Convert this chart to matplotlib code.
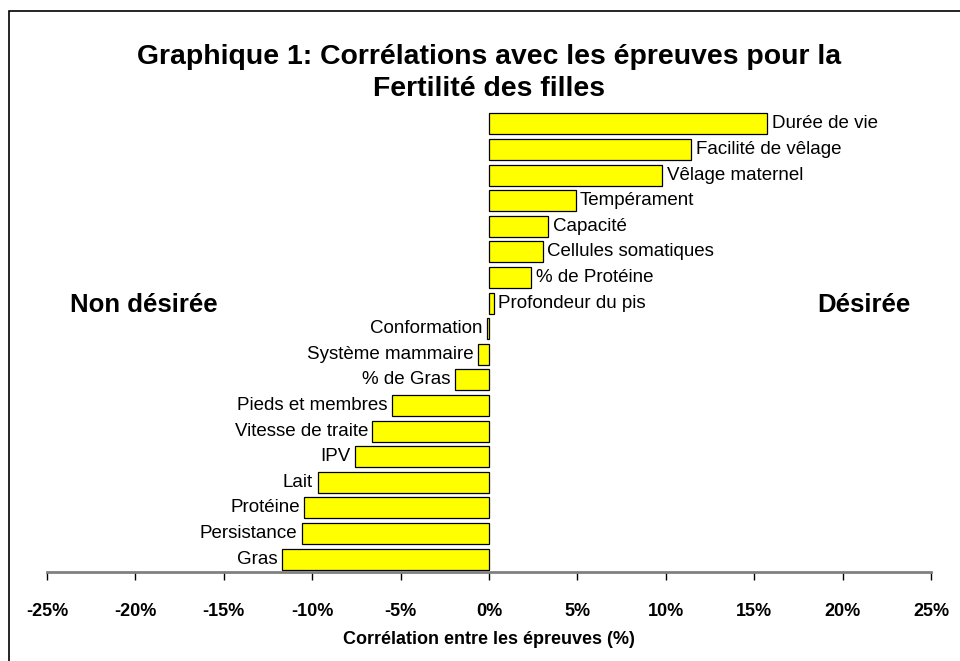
import matplotlib
matplotlib.use("Agg")
import matplotlib.pyplot as plt
from matplotlib.patches import Rectangle
from matplotlib.ticker import FuncFormatter

plt.rcParams['font.family'] = ['Liberation Sans', 'DejaVu Sans']

categories = ["Durée de vie", "Facilité de vêlage", "Vêlage maternel", "Tempérament",
              "Capacité", "Cellules somatiques", "% de Protéine", "Profondeur du pis",
              "Conformation", "Système mammaire", "% de Gras", "Pieds et membres",
              "Vitesse de traite", "IPV", "Lait", "Protéine", "Persistance", "Gras"]
values = [15.75, 11.45, 9.8, 4.9, 3.35, 3.05, 2.4, 0.27,
          -0.13, -0.6, -1.9, -5.5, -6.6, -7.6, -9.7, -10.45, -10.6, -11.7]
xticks = [-25, -20, -15, -10, -5, 0, 5, 10, 15, 20, 25]

W, H = 960, 661
fig = plt.figure(figsize=(W / 100, H / 100), dpi=100)
ax = fig.add_axes([47 / W, 1 - 572 / H, (931 - 47) / W, (572 - 111) / H])

n = len(categories)
ypos = [n - 1 - i for i in range(n)]
ax.barh(ypos, values, height=0.82, color='#FFFF00', edgecolor='black', linewidth=0.9, zorder=2)

for y, v, c in zip(ypos, values, categories):
    if v >= 0:
        ax.text(v + 0.25, y, c, ha='left', va='center', fontsize=13.5)
    else:
        ax.text(v - 0.25, y, c, ha='right', va='center', fontsize=13.5)

ax.set_xlim(-25, 25)
ax.set_ylim(-0.5, n - 0.5)
ax.set_yticks([])
for s in ['left', 'right', 'top']:
    ax.spines[s].set_visible(False)
ax.spines['bottom'].set_color('#808080')
ax.spines['bottom'].set_linewidth(2)
ax.set_xticks(xticks)
ax.xaxis.set_major_formatter(FuncFormatter(lambda x, p: f"{int(round(x))}%"))
ax.tick_params(axis='x', direction='out', length=6, width=1, color='black',
               labelsize=13, pad=16.5)
for lab in ax.get_xticklabels():
    lab.set_fontweight('bold')

ax.set_xlabel("Corrélation entre les épreuves (%)", fontsize=13, fontweight='bold', labelpad=8)

fig.text(489 / W, 1 - 73 / H, "Graphique 1: Corrélations avec les épreuves pour la\nFertilité des filles",
         ha='center', va='center', fontsize=20.4, fontweight='bold', linespacing=1.27)
fig.text(144 / W, 1 - 305 / H, "Non désirée", ha='center', va='center', fontsize=18.5, fontweight='bold')
fig.text(864 / W, 1 - 305 / H, "Désirée", ha='center', va='center', fontsize=18.5, fontweight='bold')

fig.patches.append(Rectangle((9 / W, -0.1), 1.2, 1 - 11 / H + 0.1, transform=fig.transFigure,
                             fill=False, edgecolor='black', linewidth=1.2))

fig.savefig("out.png", dpi=100)
